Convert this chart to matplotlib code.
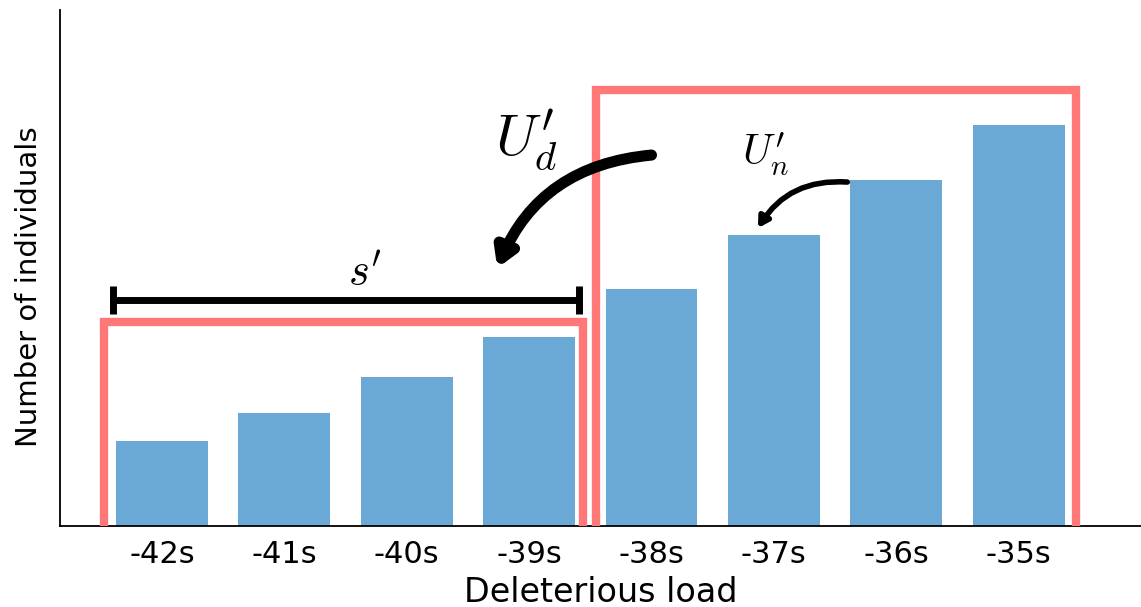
import matplotlib
matplotlib.use("Agg")
import matplotlib.pyplot as plt

plt.rcParams['mathtext.fontset'] = 'cm'

# data
loads = ['-42s', '-41s', '-40s', '-39s', '-38s', '-37s', '-36s', '-35s']
counts = [85, 113, 149, 189, 237, 291, 346, 401]

# boxes around the two groups: (left, right, top)
box_left = (-0.47, 3.44, 204)
box_right = (3.55, 7.47, 436)
# bracket for s'
bracket = (-0.40, 3.41, 226)

bar_color = '#6aa8d6'
red = '#ff7777'

fig = plt.figure(figsize=(11.41, 6.07), dpi=100)
ax = fig.add_axes([0.0526, 0.1334, 0.9474, 0.85])

x = list(range(len(loads)))
ax.bar(x, counts, width=0.75, color=bar_color, zorder=2)

for x0, x1, top in (box_left, box_right):
    ax.plot([x0, x0, x1, x1], [0, top, top, 0], color=red, lw=6,
            solid_joinstyle='miter', zorder=3)

bx0, bx1, by = bracket
ax.plot([bx0, bx1], [by, by], color='black', lw=5, zorder=4)
ax.vlines([bx0, bx1], by - 14, by + 14, color='black', lw=5, zorder=4)
ax.text((bx0 + bx1) / 2 + 0.15, by + 6, r"$s'$", fontsize=32, ha='center', va='bottom')

# arrows
ax.annotate('', xy=(2.74, 258), xytext=(4.0, 371),
            arrowprops=dict(arrowstyle='-|>,head_length=1.0,head_width=0.6',
                            connectionstyle='arc3,rad=0.3', color='black',
                            lw=8, shrinkA=0, shrinkB=0))
ax.annotate('', xy=(4.87, 298), xytext=(5.6, 344),
            arrowprops=dict(arrowstyle='-|>,head_length=0.6,head_width=0.35',
                            connectionstyle='arc3,rad=0.3', color='black',
                            lw=4, shrinkA=0, shrinkB=0))
ax.text(2.98, 386, r"$U_d'$", fontsize=42, ha='center', va='center')
ax.text(4.93, 372, r"$U_n'$", fontsize=30, ha='center', va='center')

ax.set_xlim(-0.833, 8.0)
ax.set_ylim(0, 516)
ax.set_xticks(x)
ax.set_xticklabels(loads, fontsize=22)
ax.set_yticks([])
ax.tick_params(axis='x', direction='in', length=10, width=1.3, pad=10)
ax.spines['top'].set_visible(False)
ax.spines['right'].set_visible(False)
ax.spines['left'].set_linewidth(1.3)
ax.spines['bottom'].set_linewidth(1.3)
ax.set_xlabel('Deleterious load', fontsize=24, labelpad=5)
ax.set_ylabel('Number of individuals', fontsize=21)
ax.yaxis.set_label_coords(-0.016, 0.463)

fig.savefig('out.png', dpi=100)
